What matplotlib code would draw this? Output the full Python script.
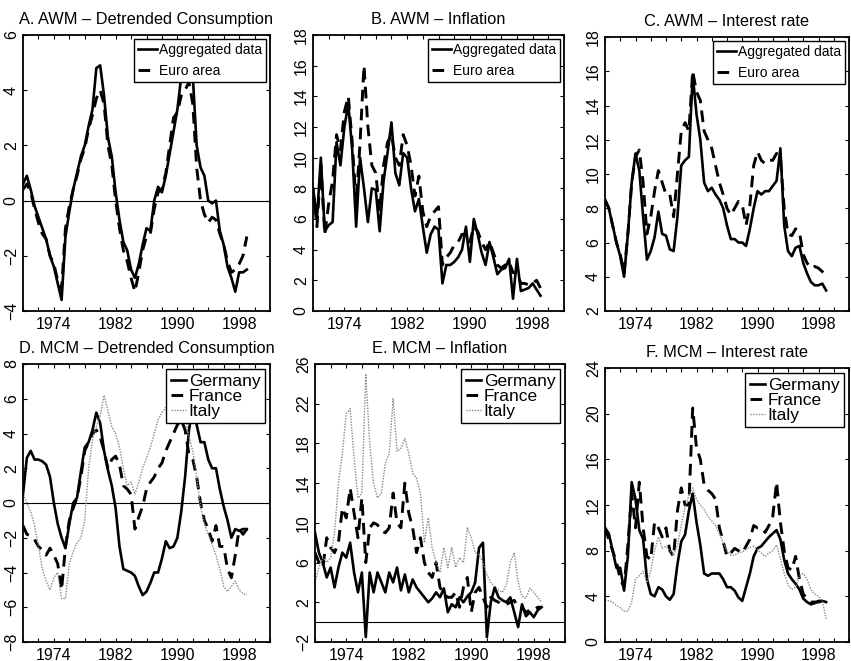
import numpy as np
import matplotlib
matplotlib.use("Agg")
import matplotlib.pyplot as plt
from matplotlib.ticker import FixedLocator, MultipleLocator

plt.rcParams["font.family"] = ["Liberation Sans", "DejaVu Sans"]

# half-year observation dates, 1970 to 1999
years = np.arange(1970.0, 1999.01, 0.5)

# A. AWM - detrended consumption
awm_cons_agg = [0.6, 0.9, 0.4, -0.2, -0.6, -1.0, -1.4, -2.0, -2.4, -3.0,
                -3.6, -1.3, -0.4, 0.4, 1.0, 1.6, 2.0, 2.7, 3.3, 4.8,
                4.9, 3.8, 2.3, 1.6, 0.3, -0.7, -1.5, -1.8, -2.5, -2.8,
                -2.3, -1.6, -1.0, -1.1, 0.0, 0.5, 0.3, 0.9, 1.7, 2.5,
                3.3, 4.5, 5.5, 5.8, 4.5, 2.0, 1.2, 0.9, 0.0, -0.1,
                0.0, -1.1, -1.6, -2.4, -2.8, -3.3, -2.6, -2.6, -2.5]
awm_cons_euro = [0.4, 0.6, 0.3, -0.3, -0.8, -1.2, -1.4, -2.0, -2.3, -2.9,
                 -3.2, -1.0, -0.2, 0.4, 0.9, 1.5, 1.9, 2.6, 3.1, 3.7,
                 4.0, 3.5, 2.0, 1.3, 0.0, -1.0, -1.8, -2.2, -2.8, -3.3,
                 -2.6, -1.8, -1.3, -1.2, -0.3, 0.3, 0.4, 1.0, 2.0, 3.0,
                 3.2, 3.8, 4.0, 4.3, 3.5, 1.2, 0.0, -0.5, -0.8, -0.6,
                 -0.7, -1.2, -1.6, -2.2, -2.6, -2.5, -2.3, -2.0, -1.3]

# B. AWM - inflation
awm_infl_agg = [8.0, 6.0, 10.0, 5.2, 5.6, 5.8, 11.0, 9.5, 12.0, 13.5,
                10.5, 5.5, 10.0, 8.0, 5.8, 8.0, 7.9, 5.2, 8.5, 10.3,
                12.3, 9.0, 8.2, 10.3, 10.0, 8.0, 6.5, 7.3, 5.5, 3.8,
                5.0, 5.5, 5.3, 1.8, 3.0, 3.0, 3.2, 3.5, 4.0, 5.5,
                3.2, 6.0, 5.0, 3.8, 3.0, 4.5, 3.5, 2.4, 2.7, 2.8,
                3.4, 0.8, 3.4, 1.3, 1.4, 1.5, 1.8, 1.4, 1.0]
awm_infl_euro = [8.0, 5.5, 9.5, 5.0, 7.0, 8.5, 11.5, 10.5, 13.0, 14.0,
                 11.0, 7.0, 11.0, 16.0, 12.0, 9.5, 9.0, 6.5, 9.5, 11.0,
                 11.5, 10.0, 9.5, 11.5, 10.8, 9.5, 7.5, 8.8, 6.5, 5.5,
                 6.2, 6.5, 6.8, 3.0, 3.5, 3.8, 4.3, 4.5, 5.0, 5.0,
                 4.5, 5.5, 5.2, 4.5, 4.0, 4.5, 3.8, 3.0, 2.8, 3.0,
                 3.2, 2.5, 2.5, 1.8, 1.8, 1.7, 1.8, 2.0, 1.5]

# C. AWM - interest rate
awm_rate_agg = [8.5, 8.0, 7.0, 6.0, 5.2, 4.0, 6.5, 9.5, 11.2, 10.2,
                7.5, 5.0, 5.5, 6.3, 7.8, 6.5, 6.4, 5.6, 5.5, 7.5,
                10.5, 10.8, 11.0, 15.8, 13.5, 12.0, 9.5, 9.0, 9.2, 8.8,
                8.5, 8.0, 7.0, 6.2, 6.2, 6.0, 6.0, 5.8, 6.8, 8.0,
                9.0, 8.8, 9.0, 9.0, 9.3, 9.6, 11.5, 7.0, 5.5, 5.2,
                5.7, 5.8, 4.8, 4.2, 3.7, 3.5, 3.5, 3.6, 3.2]
awm_rate_euro = [8.5, 8.0, 7.0, 6.0, 5.3, 4.2, 6.5, 9.5, 11.0, 11.4,
                 9.5, 6.5, 7.5, 9.0, 10.2, 9.5, 8.8, 8.8, 7.5, 10.0,
                 12.5, 13.0, 12.5, 16.0, 14.8, 14.3, 12.5, 12.0, 11.5, 10.5,
                 9.5, 8.8, 8.0, 7.6, 8.0, 8.4, 8.2, 7.0, 8.2, 10.5,
                 11.3, 10.8, 10.6, 10.8, 10.8, 11.2, 11.0, 8.0, 6.5, 6.4,
                 6.8, 6.6, 5.3, 4.8, 4.5, 4.6, 4.5, 4.3, 4.0]

# D. MCM - detrended consumption
mcm_cons_de = [0.5, 2.6, 3.0, 2.5, 2.5, 2.4, 2.2, 1.5, 0.0, -1.2,
               -2.0, -2.6, -1.2, 0.0, 0.3, 1.8, 3.2, 3.5, 4.2, 5.2,
               4.6, 3.0, 1.9, 1.0, -0.3, -2.5, -3.8, -3.9, -4.0, -4.2,
               -4.8, -5.3, -5.1, -4.6, -4.0, -4.0, -3.2, -2.2, -2.6, -2.5,
               -2.0, -0.5, 1.5, 4.2, 5.5, 4.5, 3.5, 3.5, 2.5, 2.0,
               2.0, 0.8, -0.2, -1.0, -2.0, -1.5, -1.6, -1.5, -1.5]
mcm_cons_fr = [-1.3, -1.8, -1.9, -2.1, -2.5, -2.7, -3.0, -2.6, -3.0, -3.5,
               -5.0, -2.5, -1.0, -0.3, 0.3, 1.5, 3.0, 3.5, 4.0, 4.2,
               3.8, 3.0, 2.0, 2.5, 2.7, 2.2, 1.0, 0.8, 0.5, -1.5,
               -0.8, -0.2, 0.8, 1.2, 1.5, 2.0, 2.3, 3.0, 3.5, 4.0,
               4.5, 4.8, 4.2, 2.8, 2.5, 1.5, 0.0, -1.0, -1.5, -2.2,
               -1.3, -2.5, -2.5, -3.8, -4.3, -3.0, -1.5, -1.8, -1.5]
mcm_cons_it = [0.5, 0.0, -0.5, -1.3, -2.5, -3.8, -4.5, -5.0, -4.3, -4.0,
               -5.5, -5.5, -3.5, -2.8, -2.3, -2.0, -1.0, 2.0, 3.6, 4.4,
               5.0, 6.2, 5.3, 4.4, 4.0, 3.2, 2.0, 1.0, 1.2, 0.5,
               1.2, 2.0, 2.6, 3.2, 4.0, 4.8, 5.2, 5.5, 5.8, 5.6,
               6.0, 5.6, 5.0, 3.8, 3.0, 1.5, -0.2, -1.2, -1.8, -2.4,
               -3.0, -3.8, -4.8, -5.1, -4.8, -4.5, -5.0, -5.2, -5.3]

# E. MCM - inflation
mcm_infl_de = [9.0, 7.0, 6.0, 4.5, 5.5, 3.5, 5.5, 7.0, 6.5, 8.0,
               5.0, 3.0, 5.0, -1.5, 5.0, 3.0, 5.0, 4.0, 3.0, 5.0,
               4.0, 5.5, 3.2, 4.8, 3.0, 4.3, 3.5, 3.0, 2.5, 2.0,
               2.4, 3.0, 2.5, 3.4, 1.0, 1.8, 1.5, 2.5, 2.0, 2.6,
               3.0, 4.0, 7.5, 8.0, -1.5, 2.0, 3.5, 2.5, 2.2, 2.0,
               2.5, 1.0, -0.5, 1.8, 0.6, 1.0, 0.5, 1.2, 1.5]
mcm_infl_fr = [7.0, 6.0, 5.5, 8.5, 7.5, 7.0, 8.0, 11.5, 10.5, 13.5,
               11.0, 8.5, 12.5, 6.0, 9.5, 10.0, 9.8, 9.2, 9.0, 9.5,
               13.0, 10.0, 9.5, 14.0, 11.0, 9.5, 7.0, 8.5, 6.0, 5.0,
               4.5, 6.0, 3.5, 2.8, 2.5, 2.5, 3.0, 1.5, 3.5, 4.5,
               1.0, 3.0, 3.5, 2.5, 1.5, 2.5, 2.2, 2.0, 1.8, 1.8,
               2.0, 2.2, 1.5, 1.5, 1.0, 1.2, 1.2, 1.5, 1.5]
mcm_infl_it = [4.0, 5.5, 6.5, 6.0, 6.5, 9.0, 14.0, 17.0, 21.0, 21.5,
               16.5, 12.5, 13.0, 25.0, 18.0, 14.0, 12.5, 13.0, 16.0, 17.0,
               22.5, 17.2, 17.5, 18.5, 17.0, 15.0, 14.5, 13.0, 8.0, 10.5,
               7.5, 6.0, 5.0, 7.5, 5.5, 7.5, 5.5, 6.5, 6.0, 9.5,
               8.5, 7.0, 6.8, 6.0, 4.8, 4.0, 3.6, 3.2, 3.0, 3.8,
               6.0, 7.0, 4.0, 2.6, 2.4, 3.4, 3.0, 2.5, 2.0]

# F. MCM - interest rate
mcm_rate_de = [10.0, 9.5, 8.0, 6.5, 6.5, 4.5, 7.5, 14.0, 12.5, 9.8,
               9.0, 5.5, 4.2, 4.0, 4.8, 4.6, 4.0, 3.7, 4.2, 6.8,
               8.8, 9.4, 11.5, 13.0, 10.5, 8.5, 6.0, 5.8, 6.0, 6.0,
               6.0, 5.5, 4.8, 4.8, 4.5, 3.9, 3.6, 4.8, 6.0, 7.5,
               8.2, 8.4, 8.8, 9.2, 9.5, 9.8, 9.0, 7.2, 6.0, 5.5,
               5.1, 4.6, 3.8, 3.5, 3.3, 3.4, 3.6, 3.6, 3.5]
mcm_rate_fr = [10.0, 9.0, 8.0, 7.0, 5.5, 4.8, 8.5, 13.0, 10.0, 14.0,
               10.0, 7.5, 7.2, 10.5, 10.0, 9.2, 10.0, 8.0, 7.5, 11.5,
               13.5, 12.0, 12.0, 20.5, 17.0, 16.0, 13.8, 13.3, 13.0, 12.5,
               10.0, 8.8, 7.5, 7.8, 8.2, 8.0, 7.8, 8.4, 9.0, 10.2,
               10.0, 10.0, 9.6, 10.2, 11.0, 14.0, 10.5, 8.0, 6.5, 6.3,
               7.5, 5.5, 4.2, 3.8, 3.5, 3.5, 3.5, 3.6, 3.5]
mcm_rate_it = [3.7, 3.6, 3.5, 3.2, 3.0, 2.7, 2.7, 3.5, 5.5, 5.8,
               6.2, 5.2, 6.2, 8.0, 9.2, 8.2, 8.4, 8.0, 7.6, 8.5,
               10.2, 11.8, 12.8, 13.5, 12.5, 12.0, 11.6, 11.0, 10.6, 10.2,
               9.5, 8.7, 8.0, 7.6, 7.6, 7.8, 7.9, 8.1, 8.3, 8.4,
               8.1, 7.8, 7.5, 7.8, 8.0, 8.5, 7.3, 6.0, 5.0, 4.6,
               4.8, 5.8, 6.0, 5.5, 4.6, 4.2, 4.0, 3.6, 2.0]

W, H = 851, 661
fig = plt.figure(figsize=(W / 100, H / 100), dpi=100)


def make_ax(x0, x1, y0, y1):
    return fig.add_axes([x0 / W, (H - y1) / H, (x1 - x0) / W, (y1 - y0) / H])


def style(ax, ylo, yhi, ystep, title, zero=False):
    ax.set_xlim(1970, 2002)
    ax.set_ylim(ylo, yhi)
    ax.xaxis.set_major_locator(FixedLocator([1974, 1982, 1990, 1998]))
    ax.xaxis.set_minor_locator(MultipleLocator(2))
    ax.yaxis.set_major_locator(FixedLocator(np.arange(ylo, yhi + 0.01, ystep)))
    ax.tick_params(which="both", direction="in", top=True, right=True,
                   length=3, width=0.8, labelsize=11.5)
    ax.tick_params(axis="y", labelrotation=90, pad=3)
    ax.tick_params(axis="x", pad=4)
    for lbl in ax.get_yticklabels():
        lbl.set_va("center")
    for s in ax.spines.values():
        s.set_linewidth(1.3)
    if zero:
        ax.axhline(0, color="black", lw=0.8, zorder=1)
    ax.set_title(title, fontsize=11.8, pad=8)


def legend(ax, fs, spacing, hlen):
    ax.legend(loc="upper right", frameon=True, fancybox=False, edgecolor="black",
              framealpha=1, fontsize=fs, borderpad=0.25, handlelength=hlen,
              handletextpad=0.15, labelspacing=spacing, borderaxespad=0.3)


dash = (0, (4, 2.5))
solid_kw = dict(color="black", lw=1.9)
dash_kw = dict(color="black", lw=2.1, linestyle=dash)
dot_kw = dict(color="#8a8a8a", lw=1.0, linestyle=(0, (1, 1)))

# top row: AWM
ax = make_ax(23, 270, 35, 311)
ax.plot(years, awm_cons_agg, label="Aggregated data", **solid_kw)
ax.plot(years, awm_cons_euro, label="Euro area", **dash_kw)
style(ax, -4, 6, 2, "A. AWM \u2013 Detrended Consumption", zero=True)
legend(ax, 10, 0.55, 1.4)

ax = make_ax(313, 564, 35, 311)
ax.plot(years, awm_infl_agg, label="Aggregated data", **solid_kw)
ax.plot(years, awm_infl_euro, label="Euro area", **dash_kw)
style(ax, 0, 18, 2, "B. AWM \u2013 Inflation")
legend(ax, 10, 0.55, 1.4)

ax = make_ax(605, 849, 37, 311)
ax.plot(years, awm_rate_agg, label="Aggregated data", **solid_kw)
ax.plot(years, awm_rate_euro, label="Euro area", **dash_kw)
style(ax, 2, 18, 2, "C. AWM \u2013 Interest rate")
legend(ax, 10, 0.55, 1.4)

# bottom row: MCM
ax = make_ax(23, 270, 364, 642)
ax.plot(years, mcm_cons_de, label="Germany", **solid_kw)
ax.plot(years, mcm_cons_fr, label="France", **dash_kw)
ax.plot(years, mcm_cons_it, label="Italy", **dot_kw)
style(ax, -8, 8, 2, "D. MCM \u2013 Detrended Consumption", zero=True)
legend(ax, 12.5, 0.0, 0.9)

ax = make_ax(315, 565, 364, 642)
ax.plot(years, mcm_infl_de, label="Germany", **solid_kw)
ax.plot(years, mcm_infl_fr, label="France", **dash_kw)
ax.plot(years, mcm_infl_it, label="Italy", **dot_kw)
style(ax, -2, 26, 4, "E. MCM \u2013 Inflation", zero=True)
legend(ax, 12.5, 0.0, 0.9)

ax = make_ax(605, 849, 368, 642)
ax.plot(years, mcm_rate_de, label="Germany", **solid_kw)
ax.plot(years, mcm_rate_fr, label="France", **dash_kw)
ax.plot(years, mcm_rate_it, label="Italy", **dot_kw)
style(ax, 0, 24, 4, "F. MCM \u2013 Interest rate")
legend(ax, 12.5, 0.0, 0.9)

fig.savefig("out.png", dpi=100)
